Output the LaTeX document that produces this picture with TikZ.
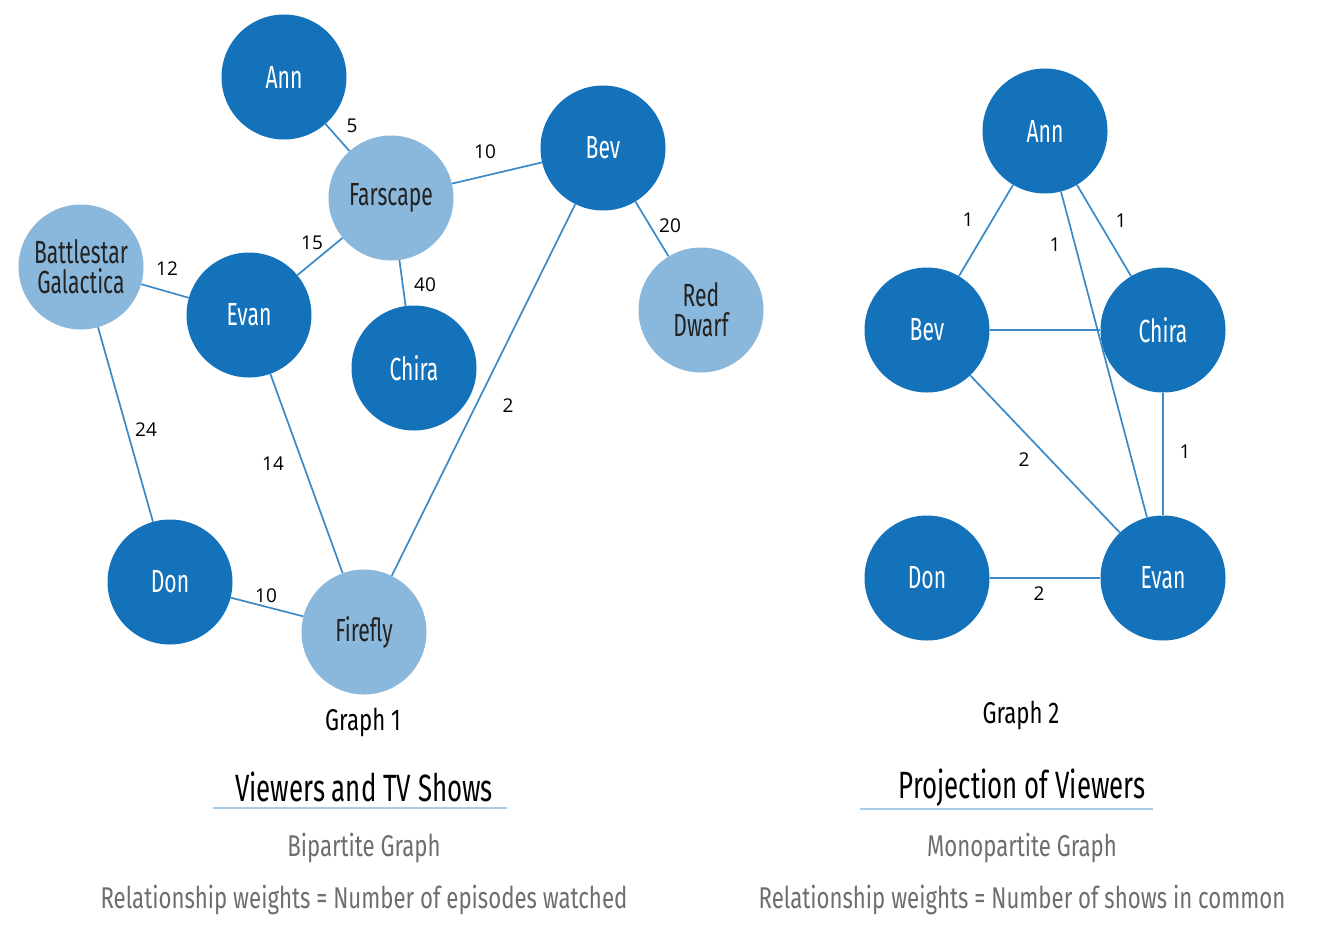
\documentclass[tikz,border=0pt]{standalone}
\usepackage{fontspec}
\setmainfont{Fira Sans}
\newfontfamily\condfont[FakeStretch=0.74]{Fira Sans}
\newfontfamily\nodefont[FakeStretch=0.66]{Fira Sans}
\newfontfamily\titlefont[FakeStretch=0.68]{Fira Sans}
\newfontfamily\lblfont{Open Sans}
\definecolor{darkblue}{HTML}{1372BA}
\definecolor{lightblue}{HTML}{8AB8DC}
\definecolor{edgeblue}{HTML}{3A8AC8}
\definecolor{ulblue}{HTML}{A8CDEB}
\definecolor{greytext}{HTML}{6E6E6E}
\definecolor{nodetext}{HTML}{222222}
\begin{document}
\begin{tikzpicture}[x=1pt,y=-1pt,
  viewer/.style={circle,fill=darkblue,minimum size=125pt,inner sep=0pt,text=white,font=\nodefont\fontsize{32}{30}\selectfont,align=center},
  show/.style={circle,fill=lightblue,minimum size=125pt,inner sep=0pt,text=nodetext,font=\nodefont\fontsize{32}{30}\selectfont,align=center},
  conn/.style={draw=edgeblue,line width=1.7pt},
  wlbl/.style={font=\lblfont\fontsize{19}{20}\selectfont,text=black,inner sep=0pt},
  caption/.style={font=\condfont\fontsize{30}{32}\selectfont,text=black,inner sep=0pt},
  title/.style={font=\titlefont\fontsize{38}{40}\selectfont,text=black,inner sep=0pt},
  sub/.style={font=\condfont\fontsize{30}{32}\selectfont,text=greytext,inner sep=0pt},
  uline/.style={draw=ulblue,line width=1.5pt}]
\useasboundingbox[fill=white] (0,0) rectangle (1325,938);
% Graph 1
\node[viewer] (ann) at (284,77) {Ann};
\node[show] (far) at (391,198) {Farscape};
\node[viewer] (bev) at (603,148) {Bev};
\node[show] (red) at (701,310) {Red\\Dwarf};
\node[show] (bsg) at (81,267) {Battlestar\\Galactica};
\node[viewer] (evan) at (249,315) {Evan};
\node[viewer] (chira) at (414,368) {Chira};
\node[viewer] (don) at (170,582) {Don};
\node[show] (fire) at (364,632) {Firefly};
\path[conn] (ann) -- (far) node[wlbl] at (352,126) {5};
\path[conn] (far) -- (bev) node[wlbl] at (485,152) {10};
\path[conn] (bev) -- (red) node[wlbl] at (670,226) {20};
\path[conn] (far) -- (evan) node[wlbl] at (312,243) {15};
\path[conn] (far) -- (chira) node[wlbl] at (425,285) {40};
\path[conn] (bsg) -- (evan) node[wlbl] at (167,269) {12};
\path[conn] (bsg) -- (don) node[wlbl] at (146,430) {24};
\path[conn] (evan) -- (fire) node[wlbl] at (273,464) {14};
\path[conn] (don) -- (fire) node[wlbl] at (266,596) {10};
\path[conn] (bev) -- (fire) node[wlbl] at (508,406) {2};
% Graph 2
\node[viewer] (ann2) at (1045,131) {Ann};
\node[viewer] (bev2) at (927,330) {Bev};
\node[viewer] (chira2) at (1163,330) {Chira};
\node[viewer] (don2) at (927,578) {Don};
\node[viewer] (evan2) at (1163,578) {Evan};
\path[conn] (ann2) -- (bev2) node[wlbl] at (968,220) {1};
\path[conn] (ann2) -- (evan2) node[wlbl] at (1055,245) {1};
\path[conn] (ann2) -- (chira2) node[wlbl] at (1121,221) {1};
\path[conn] (bev2) -- (chira2);
\path[conn] (bev2) -- (evan2) node[wlbl] at (1024,460) {2};
\path[conn] (chira2) -- (evan2) node[wlbl] at (1185,452) {1};
\path[conn] (don2) -- (evan2) node[wlbl] at (1039,594) {2};
% captions
\node[caption] (g1) at (363,722) {Graph 1};
\node[caption] (g2) at (1021,715) {Graph 2};
\node[title] (t1) at (364,787) {Viewers and TV Shows};
\node[title] (t2) at (1022,788) {Projection of Viewers};
\coordinate (u1a) at (213,808); \coordinate (u1b) at (507,808);
\coordinate (u2a) at (860,809); \coordinate (u2b) at (1153,809);
\path[uline] (u1a) -- (u1b);
\path[uline] (u2a) -- (u2b);
\node[sub] (s1) at (364,848) {Bipartite Graph};
\node[sub] (s2) at (1022,848) {Monopartite Graph};
\node[sub] (r1) at (364,900) {Relationship weights = Number of episodes watched};
\node[sub] (r2) at (1022,900) {Relationship weights = Number of shows in common};
\end{tikzpicture}
\end{document}
